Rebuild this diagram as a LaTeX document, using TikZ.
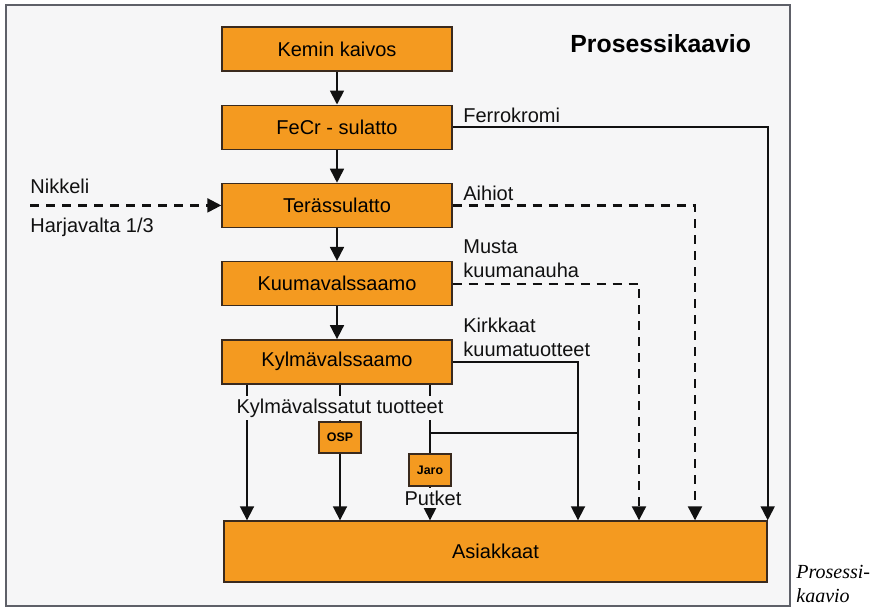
\documentclass[tikz,border=0pt]{standalone}
\usepackage{fontspec}
\setmainfont{Liberation Sans}
\newfontfamily\kuvatekstifont{Liberation Serif}
\usetikzlibrary{arrows.meta, positioning, calc}
\usepackage{xcolor}
\definecolor{ink}{HTML}{111111}
\definecolor{frame}{HTML}{5E6068}
\definecolor{paper}{HTML}{F6F6F7}
\definecolor{procfill}{HTML}{F49A20}
\definecolor{procline}{HTML}{3A2A1E}

\begin{document}
\begin{tikzpicture}[
  x=0.5pt, y=-0.5pt,
  node distance=16.4pt,
  proc/.style={draw=procline, line width=0.7pt, fill=procfill, minimum width=115pt,
               minimum height=22pt, inner sep=0pt, font=\fontsize{10}{12}\selectfont},
  minibox/.style={proc, minimum width=21pt, minimum height=15.5pt,
                  font=\fontsize{6.2}{7}\selectfont\bfseries},
  lbl/.style={font=\fontsize{10}{12}\selectfont, text=ink, inner sep=0pt,
              anchor=base west, align=left},
  cut/.style={lbl, anchor=base, fill=paper, inner sep=1.5pt},
  flow/.style={line width=0.9pt, draw=ink},
  arr/.style={flow, -{Triangle[length=7pt, width=7pt]}},
  dashflow/.style={arr, line width=1.1pt, dash pattern=on 4.5pt off 3.5pt}
]
\useasboundingbox (0,0) rectangle (872,607);
\fill[paper] (6,5) rectangle (790,606);
\draw[frame, line width=1pt] (6,5) rectangle (790,606);

% main chain
\node[proc] (kaivos) at (337,49) {Kemin kaivos};
\node[proc, below=of kaivos] (fecr) {FeCr - sulatto};
\node[proc, below=of fecr] (teras) {Terässulatto};
\node[proc, below=of teras] (kuuma) {Kuumavalssaamo};
\node[proc, below=of kuuma] (kylma) {Kylmävalssaamo};
\node[proc, minimum width=271.5pt, minimum height=30.5pt] (asiakkaat) at (495.5,551.5) {Asiakkaat};
\node[minibox] (osp) at (340,437.5) {OSP};
\node[minibox, minimum height=16pt] (jaro) at (430,470) {Jaro};

\node[font=\fontsize{12.4}{14}\selectfont\bfseries, anchor=base west, inner sep=0pt]
  (otsikko) at (570,52) {Prosessikaavio};

\draw[arr] (kaivos) -- (fecr);
\draw[arr] (fecr) -- (teras);
\draw[arr] (teras) -- (kuuma);
\draw[arr] (kuuma) -- (kylma);

% nickel in
\coordinate (sisaan) at (teras.west -| 30,0);
\draw[dashflow] (sisaan) -- (teras.west);
\node[lbl] (nikkeli) at (30,193) {Nikkeli};
\node[lbl] (harjavalta) at (30,232) {Harjavalta 1/3};

% side products
\draw[arr] (fecr.east) -| (asiakkaat.north east);
\draw[dashflow] (teras.east) -| (asiakkaat.north -| 695,0);
\draw[dashflow] (kuuma.east) -| (asiakkaat.north -| 639,0);
\draw[arr] (kylma.east) -| (asiakkaat.north -| 578,0);
\node[lbl] (ferrokromi) at (463,122) {Ferrokromi};
\node[lbl] (aihiot) at (463,200) {Aihiot};
\node[lbl] (musta) at (463,277) {Musta\\kuumanauha};
\node[lbl] (kirkkaat) at (463,356) {Kirkkaat\\kuumatuotteet};

% cold rolled
\draw[arr] (kylma.south -| 247,0) -- (asiakkaat.north -| 247,0);
\draw[flow] (kylma.south -| osp) -- (osp.north);
\draw[arr] (osp) -- (asiakkaat.north -| osp);
\draw[flow] (kylma.south -| jaro) -- (jaro.north);
\coordinate (haara) at (jaro.north |- 0,433);
\draw[flow] (haara) -- (haara -| 578,0);
\draw[arr] (jaro.south) -- (asiakkaat.north -| jaro);
\node[cut] (kylmatuotteet) at (340,413) {Kylmävalssatut tuotteet};
\node[cut] (putket) at (433,505) {Putket};

% caption
\node[font=\kuvatekstifont\itshape\fontsize{10}{12}\selectfont, anchor=base west, inner sep=0pt]
  (kuvateksti) at (796,578) {Prosessi-};
\node[font=\kuvatekstifont\itshape\fontsize{10}{12}\selectfont, anchor=base west, inner sep=0pt]
  (kuvateksti2) at (796,602) {kaavio};
\end{tikzpicture}
\end{document}
